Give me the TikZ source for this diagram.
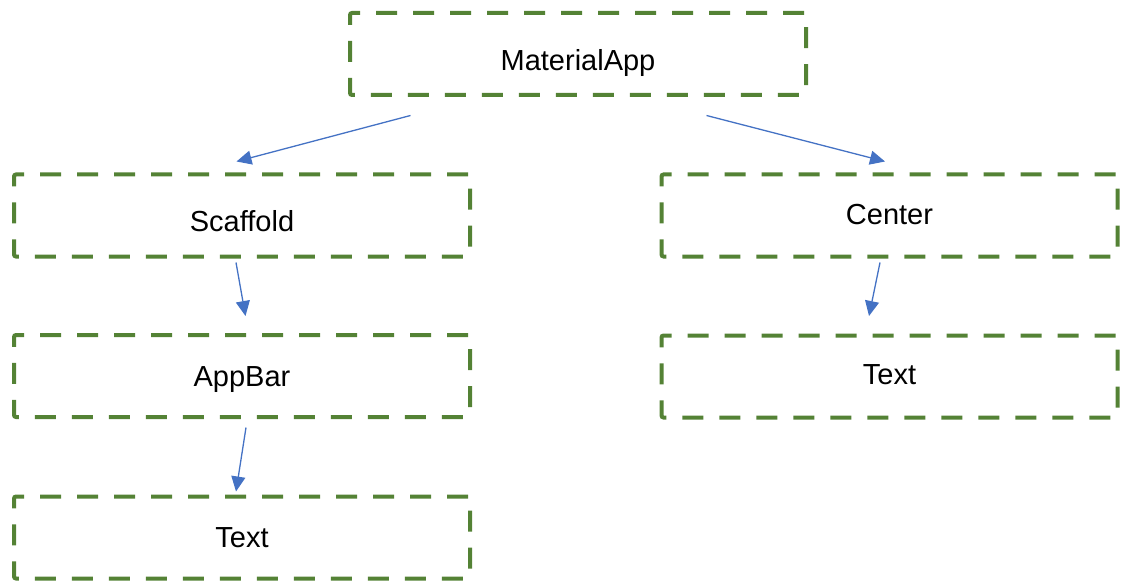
\documentclass[tikz,border=0pt]{standalone}
\usepackage{fontspec}
\setmainfont{Liberation Sans}
\usetikzlibrary{arrows.meta}
\definecolor{boxgreen}{HTML}{548235}
\definecolor{linkblue}{HTML}{4472C4}
\begin{document}
\begin{tikzpicture}[x=1pt,y=-1pt,
  widget/.style={draw=boxgreen, line width=4pt, dash pattern=on 21pt off 16pt,
    rounded corners=2pt, minimum width=456pt, minimum height=82pt, inner sep=0pt,
    font=\fontsize{29}{34}\selectfont, text depth=0pt, text height=20.8pt},
  link/.style={draw=linkblue, line width=1.3pt,
    -{Triangle[length=15pt,width=14pt]}}]
\useasboundingbox (0,0) rectangle (1122,583);

% widget tree
\node[widget, text height=32.8pt] (app) at (578,54) {MaterialApp};
\node[widget, text height=31.8pt] (scaffold) at (242,215.5) {Scaffold};
\node[widget, text height=17.8pt] (center) at (889.5,215.5) {Center};
\node[widget] (appbar) at (242,376) {AppBar};
\node[widget, text height=15.8pt] (ctext) at (889.5,376.5) {Text};
\node[widget, text height=19.8pt] (btext) at (242,537.5) {Text};

% connector end points
\coordinate (s1) at (410.5,115.5);
\coordinate (e1) at (236.5,161.5);
\coordinate (s2) at (706.5,115.5);
\coordinate (e2) at (885,161.5);
\coordinate (s3) at (236,262.5);
\coordinate (e3) at (245.5,316);
\coordinate (s4) at (880,262.5);
\coordinate (e4) at (869,316);
\coordinate (s5) at (246,427.5);
\coordinate (e5) at (236,491.5);

\draw[link] (s1) -- (e1);
\draw[link] (s2) -- (e2);
\draw[link] (s3) -- (e3);
\draw[link] (s4) -- (e4);
\draw[link] (s5) -- (e5);
\end{tikzpicture}
\end{document}
